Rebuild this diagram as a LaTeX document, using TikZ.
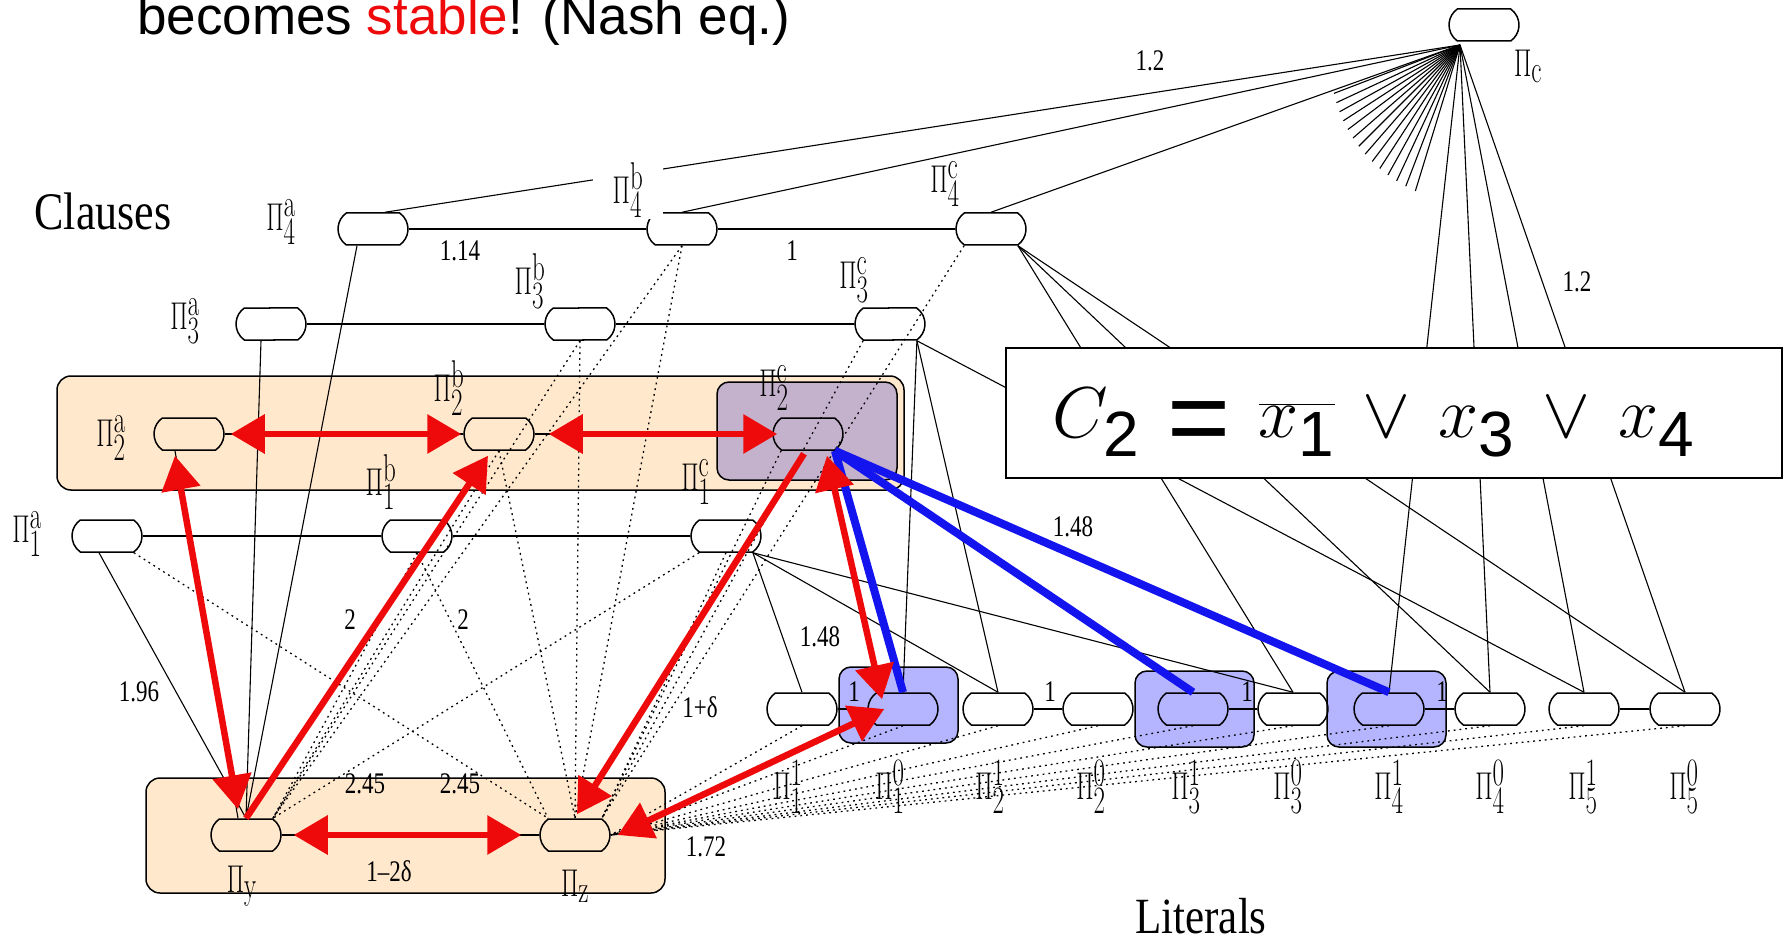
\RequirePackage{fix-cm}
\documentclass[tikz,border=0pt]{standalone}
\usepackage[no-math]{fontspec}
\setmainfont{Liberation Serif}
\newfontfamily\helv{Liberation Sans}
\usepackage{graphicx}
\usetikzlibrary{arrows.meta,calc,shapes.misc}
\definecolor{GadgetPeach}{HTML}{FFE8CC}
\definecolor{GadgetPlum}{HTML}{C4B1CC}
\definecolor{LiteralBlue}{HTML}{B4B4FF}
\definecolor{StableRed}{HTML}{EE0A0A}
\definecolor{ChoiceBlue}{HTML}{1414EE}

\newcommand{\tallify}[1]{\scalebox{1}[1.55]{#1}}
\newcommand{\PiLab}[2]{\tallify{$\Pi^{\textstyle\mathrm{#1}}_{\textstyle #2}$}}
\newcommand{\PiSub}[1]{\tallify{$\Pi_{\textstyle\mathrm{#1}}$}}
\newcommand{\wtext}[1]{\scalebox{1}[1.3]{#1}}
\newcommand{\digsub}[1]{\mbox{\helv\fontsize{64}{64}\selectfont #1}}
\newcommand{\fateq}{\mathrel{\raisebox{-17pt}{\helv\fontsize{108}{108}\selectfont =}}}

\tikzset{
  agent/.style={rounded rectangle, rounded rectangle arc length=110, draw,
    line width=1.5pt, minimum width=70pt, minimum height=32pt, inner sep=0pt},
  pilabel/.style={inner sep=0pt, font=\fontsize{25}{27}\selectfont},
  weight/.style={inner sep=0pt, font=\fontsize{23}{25}\selectfont},
  tie/.style={line width=1.1pt},
  rowtie/.style={line width=1.6pt},
  offer/.style={line width=1.3pt, dash pattern=on 1.8pt off 4pt},
  gadget/.style={draw, line width=1.5pt, rounded corners=14pt},
  stab/.style={draw=StableRed, line width=6.5pt},
  both/.style={stab, {Triangle[length=34pt,width=38pt]}-{Triangle[length=34pt,width=38pt]}},
  one/.style={stab, -{Triangle[length=34pt,width=38pt]}},
  pick/.style={draw=ChoiceBlue, line width=8pt},
}

\begin{document}
\begin{tikzpicture}[x=1pt,y=-1pt]
  \useasboundingbox (0,0) rectangle (1788,941);
  % highlighted gadgets
  \draw[gadget,fill=GadgetPeach] (57,376) rectangle (904,490);
  \draw[gadget,fill=GadgetPlum,rounded corners=12pt] (717,382) rectangle (897,480);
  \draw[gadget,fill=GadgetPeach] (146,778) rectangle (665,893);
  \foreach \x/\y in {839/667,1135/671,1327/671}
    \draw[gadget,fill=LiteralBlue,rounded corners=12pt] (\x,\y) rectangle ++(119,76);

  % players
  \node[agent] (Pc) at (1484,25) {};
  \foreach \k/\y/\xa/\xb/\xc in {4/229/373/682/991,3/324/271/580/890,2/434/189/499/808,1/536/107/417/726}{
    \node[agent] (P\k a) at (\xa,\y) {};
    \node[agent] (P\k b) at (\xb,\y) {};
    \node[agent] (P\k c) at (\xc,\y) {};
  }
  \node[agent] (Py) at (246,835) {};
  \node[agent] (Pz) at (575,835) {};
  \foreach \x [count=\i] in {802,903,998,1098,1193,1293,1389,1490,1584,1685}
    \node[agent] (L\i) at (\x,709) {};

  % dotted offers
  \foreach \k in {2,3,4}{
    \draw[offer] (P\k b.south) -- (Py.north east);
    \draw[offer] (P\k b.south) -- (Pz.north);
    \draw[offer] (P\k c.south west) -- (Pz.north east);
  }
  \draw[offer] (P1b.south) -- (Py.north east);
  \draw[offer] (P1b.south) -- (Pz.north west);
  \draw[offer] (P1a.south east) -- (Pz.north west);
  \draw[offer] (P1c.south west) -- (Py.north east);
  \draw[offer] (P1c.south) -- (Pz.north east);
  \foreach \i in {1,...,10}
    \draw[offer] (L\i.south) -- (Pz.east);

  % solid ties
  \foreach \k/\dx/\ex in {1/-8/0,2/-14/-8,3/-10/0,4/-16/0}
    \draw[tie] ([xshift=\dx pt]P\k a.south) -- ([xshift=\ex pt]Py.north);
  \foreach \k in {1,...,4}
    \draw[rowtie] (P\k a) -- (P\k b) -- (P\k c);
  \draw[rowtie] (Py) -- (Pz);
  \foreach \i/\j in {1/2,3/4,5/6,7/8,9/10}
    \draw[rowtie] (L\i) -- (L\j);
  \coordinate (hub) at (1460,45);
  \draw[tie] ([xshift=12pt]P4a.north) -- (hub);
  \draw[tie] (P4b.north) -- (hub);
  \draw[tie] (P4c.north) -- (hub);
  \foreach \i in {7,...,10}
    \draw[tie] (hub) -- (L\i.north);
  \foreach \a in {107,111,...,159}
    \draw[tie] (hub) -- ++(\a:{135+0.34*(159-\a)});
  \foreach \s/\t in {P4c/L6,P4c/L8,P4c/L10,P3c/L2,P3c/L3,P3c/L9,
                     P2c/L2,P2c/L5,P2c/L7,P1c/L1,P1c/L3,P1c/L6}
    \draw[tie] (\s.south east) -- (\t.north);

  % the clause
  \node[draw,line width=1.6pt,fill=white,minimum width=776pt,minimum height=130pt,inner sep=0pt]
    (cbox) at (1394,413) {};
  \node[anchor=base,inner sep=0pt,font=\fontsize{72}{80}\selectfont] (formula) at (1374,437)
    {\thickmuskip=7mu \medmuskip=7mu
     $C_{\digsub{2}} \fateq \overline{x_{\digsub{1}}} \vee x_{\digsub{3}} \vee x_{\digsub{4}}$};

  % chosen literals and stabilising moves
  \foreach \t in {L2,L5,L7}
    \draw[pick] (P2c.south east) -- (\t.north);
  \draw[both] ([xshift=6pt]P2a.east) -- ([xshift=-2pt]P2b.west);
  \draw[both] ([xshift=14pt]P2b.east) -- ([xshift=5pt]P2c.west);
  \draw[both] ([xshift=12pt]Py.east) -- ([xshift=-18pt]Pz.west);
  \draw[both] ([xshift=-14pt,yshift=-5pt]P2a.south) -- ([xshift=-8pt,yshift=9pt]Py.north);
  \draw[one] (Py.north) -- ([xshift=-11pt,yshift=-5pt]P2b.south);
  \draw[one] ([xshift=-4pt,yshift=-3pt]P2c.south) -- ([xshift=2pt,yshift=4pt]Pz.north);
  \draw[both] ([xshift=19pt,yshift=-5pt]P2c.south) -- ([xshift=-21pt,yshift=-7pt]L2.north);
  \draw[both] ([xshift=7pt]Pz.east) -- ([xshift=17pt]L2.west);

  % player labels
  \foreach \s/\n/\x/\y in {a/4/281/222,c/4/945/184,a/3/185/321,b/3/530/281,c/3/854/280,
                           a/2/111/438,b/2/449/388,c/2/774/388,a/1/27/534,b/1/381/482,c/1/696/482}
    \node[pilabel] (lab\n\s) at (\x,\y) {\PiLab{\s}{\n}};
  \node[pilabel,fill=white,inner xsep=20pt,inner ysep=2pt] (lab4b) at (628,190) {\PiLab{b}{4}};
  \node[pilabel] (laby) at (242,886) {\PiSub{y}};
  \node[pilabel] (labz) at (575,886) {\PiSub{z}};
  \node[pilabel] (labc) at (1528,66) {\PiSub{c}};
  \foreach \x/\v/\n in {788/1/1,890/0/1,990/1/2,1091/0/2,1186/1/3,
                        1288/0/3,1389/1/4,1490/0/4,1583/1/5,1684/0/5}
    \node[pilabel] (lit\n\v) at (\x,787) {\PiLab{\v}{\n}};

  % weights
  \foreach \n/\x/\y/\t in {w114/460/251/1.14,w1r/792/251/1,wca/1150/61/1.2,wcb/1577/282/1.2,
      w148a/1073/527/1.48,w148b/820/637/1.48,w196/139/692/1.96,w2a/350/620/2,w2b/463/620/2,
      w245a/365/784/2.45,w245b/460/784/2.45,w172/706/847/1.72,
      wla/854/692/1,wlb/1050/692/1,wlc/1247/692/1,wld/1442/692/1}
    \node[weight] (\n) at (\x,\y) {\wtext{\t}};
  \node[weight] (wdelta) at (700,707) {\wtext{1+δ}};
  \node[weight] (wyz) at (389,871) {\wtext{1–2δ}};

  % captions
  \node[inner sep=0pt,font=\fontsize{44}{48}\selectfont] (clauses) at (103,211)
    {\scalebox{1}[1.2]{Clauses}};
  \node[inner sep=0pt,font=\fontsize{43}{48}\selectfont] (literals) at (1201,916)
    {\scalebox{1}[1.18]{Literals}};
  \node[anchor=base west,inner sep=0pt,font=\helv\fontsize{53}{60}\selectfont] (slogan) at (137,35)
    {becomes \textcolor{StableRed}{stable}! (Nash eq.)};
\end{tikzpicture}
\end{document}
